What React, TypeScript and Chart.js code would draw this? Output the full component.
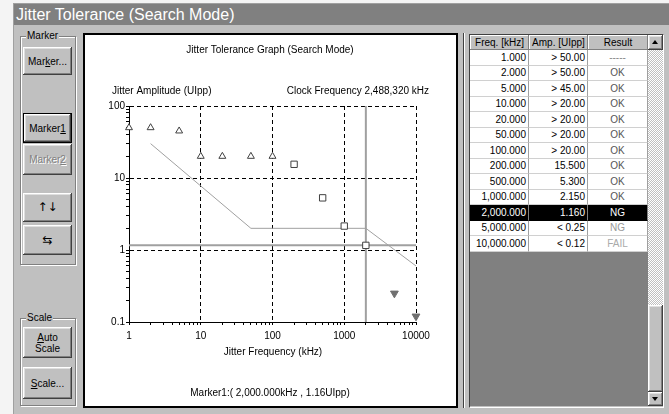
import React, { useEffect, useRef } from 'react';
import { Chart, registerables } from 'chart.js';
Chart.register(...registerables);

const FONT = '"Liberation Sans", Arial, Helvetica, sans-serif';

// ---- chart data ----
const passFreq = [1, 2, 5, 10, 20, 50, 100];
const passAmp = [50, 50, 45, 20, 20, 20, 20];
const measFreq = [200, 500, 1000, 2000];
const measAmp = [15.5, 5.3, 2.15, 1.16];
const failFreq = [5000, 10000];
const failAmp = [0.25, 0.12];
const maskFreq = [2, 50, 2000, 10000];
const maskAmp = [30, 2, 2, 0.6];
const markerFreq = 2000;
const markerAmp = 1.16;
const xMin = 1;
const xMax = 10000;
const yMin = 0.1;
const yMax = 100;
const xTickLabels = ['1', '10', '100', '1000', '10000'];
const yTickLabels = ['0.1', '1', '10', '100'];

// ---- texts ----
const windowTitle = 'Jitter Tolerance (Search Mode)';
const graphTitle = 'Jitter Tolerance Graph (Search Mode)';
const yAxisTitle = 'Jitter Amplitude (UIpp)';
const clockText = 'Clock Frequency 2,488,320 kHz';
const xAxisTitle = 'Jitter Frequency (kHz)';
const markerText = 'Marker1:( 2,000.000kHz , 1.16UIpp)';

// ---- table data ----
const tableHeaders = ['Freq. [kHz]', 'Amp. [UIpp]', 'Result'];
const freqLabels = ['1.000', '2.000', '5.000', '10.000', '20.000', '50.000', '100.000', '200.000', '500.000', '1,000.000', '2,000.000', '5,000.000', '10,000.000'];
const ampLabels = ['> 50.00', '> 50.00', '> 45.00', '> 20.00', '> 20.00', '> 20.00', '> 20.00', '15.500', '5.300', '2.150', '1.160', '< 0.25', '< 0.12'];
const resultLabels = ['-----', 'OK', 'OK', 'OK', 'OK', 'OK', 'OK', 'OK', 'OK', 'OK', 'NG', 'NG', 'FAIL'];
const selectedRow = 10;

const resultColor = (r: string) =>
  r === 'OK' ? '#555' : r === 'NG' ? '#999' : r === 'FAIL' ? '#aaa' : '#888';

const isIntMantissa = (v: number) => {
  const m = v / Math.pow(10, Math.floor(Math.log10(v) + 1e-9));
  return Math.abs(m - Math.round(m)) < 1e-6;
};
const decadeIndex = (v: number) => {
  const l = Math.log10(v);
  const r = Math.round(l);
  return Math.abs(l - r) < 1e-6 ? r : null;
};

const textPlugin = {
  id: 'graphTexts',
  afterDraw(chart: any) {
    const ctx = chart.ctx;
    ctx.save();
    ctx.fillStyle = '#000';
    ctx.font = `10px ${FONT}`;
    ctx.textBaseline = 'middle';
    ctx.textAlign = 'center';
    ctx.fillText(graphTitle, 185, 15);
    ctx.fillText(xAxisTitle, 188, 317);
    ctx.fillText(markerText, 185, 358);
    ctx.textAlign = 'left';
    ctx.fillText(yAxisTitle, 27, 56);
    ctx.textAlign = 'right';
    ctx.fillText(clockText, 344, 56);
    ctx.restore();
  },
};

function GraphCanvas() {
  const ref = useRef<HTMLCanvasElement | null>(null);
  useEffect(() => {
    if (!ref.current) return;
    const gridColor = (c: any) =>
      c.tick && decadeIndex(c.tick.value) !== null ? '#000' : 'rgba(0,0,0,0)';
    const chart = new Chart(ref.current, {
      type: 'scatter',
      data: {
        datasets: [
          {
            label: 'Pass',
            data: passFreq.map((x, i) => ({ x, y: passAmp[i] })),
            pointStyle: 'triangle',
            pointRadius: 4,
            backgroundColor: '#fff',
            borderColor: '#404040',
            borderWidth: 1,
            showLine: false,
            clip: false,
            order: 1,
          },
          {
            label: 'Measured',
            data: measFreq.map((x, i) => ({ x, y: measAmp[i] })),
            pointStyle: 'rect',
            pointRadius: 4.5,
            backgroundColor: '#fff',
            borderColor: '#404040',
            borderWidth: 1,
            showLine: false,
            clip: false,
            order: 1,
          },
          {
            label: 'Fail',
            data: failFreq.map((x, i) => ({ x, y: failAmp[i] })),
            pointStyle: 'triangle',
            rotation: 180,
            pointRadius: 4.5,
            backgroundColor: '#707070',
            borderColor: '#707070',
            borderWidth: 1,
            showLine: false,
            clip: false,
            order: 1,
          },
          {
            label: 'Mask',
            data: maskFreq.map((x, i) => ({ x, y: maskAmp[i] })),
            showLine: true,
            pointRadius: 0,
            borderColor: '#a0a0a0',
            borderWidth: 1,
            clip: false,
            order: 3,
          },
          {
            label: 'MarkerV',
            data: [{ x: markerFreq, y: yMin }, { x: markerFreq, y: yMax }],
            showLine: true,
            pointRadius: 0,
            borderColor: '#a0a0a0',
            borderWidth: 2,
            clip: false,
            order: 2,
          },
          {
            label: 'MarkerH',
            data: [{ x: xMin, y: markerAmp }, { x: xMax, y: markerAmp }],
            showLine: true,
            pointRadius: 0,
            borderColor: '#a0a0a0',
            borderWidth: 2,
            clip: false,
            order: 2,
          },
        ],
      },
      options: {
        animation: false,
        responsive: false,
        events: [],
        layout: { padding: { top: 71, right: 40, left: 0, bottom: 0 } },
        plugins: { legend: { display: false }, tooltip: { enabled: false } },
        scales: {
          x: {
            type: 'logarithmic',
            min: xMin,
            max: xMax,
            afterFit: (s: any) => { s.height = 84; },
            afterBuildTicks: (s: any) => { s.ticks = s.ticks.filter((t: any) => isIntMantissa(t.value)); },
            ticks: {
              autoSkip: false,
              maxRotation: 0,
              padding: 5,
              color: '#000',
              font: { family: FONT, size: 10 },
              callback: (v: any) => { const d = decadeIndex(Number(v)); return d === null ? '' : xTickLabels[d]; },
            },
            grid: { color: gridColor, lineWidth: 1, tickColor: '#000', tickLength: 3, tickWidth: 1 },
            border: { display: true, color: '#000', width: 1, dash: [4, 3] },
          },
          y: {
            type: 'logarithmic',
            position: 'left',
            min: yMin,
            max: yMax,
            afterFit: (s: any) => { s.width = 44; },
            afterBuildTicks: (s: any) => { s.ticks = s.ticks.filter((t: any) => isIntMantissa(t.value)); },
            ticks: {
              autoSkip: false,
              padding: 1,
              color: '#000',
              font: { family: FONT, size: 10 },
              callback: (v: any) => { const d = decadeIndex(Number(v)); return d === null ? '' : yTickLabels[d + 1]; },
            },
            grid: { color: gridColor, lineWidth: 1, tickColor: '#000', tickLength: 3, tickWidth: 1 },
            border: { display: true, color: '#000', width: 1, dash: [4, 3] },
          },
        },
      } as any,
      plugins: [textPlugin],
    });
    return () => chart.destroy();
  }, []);
  return (
    <canvas
      ref={ref}
      width={371}
      height={371}
      style={{ position: 'absolute', left: 0, top: 0, width: 371, height: 371 }}
    />
  );
}

const raised = 'inset -1px -1px #404040, inset 1px 1px #fff, inset -2px -2px #808080, inset 2px 2px #dfdfdf';

function Btn(props: { x: number; y: number; w: number; h: number; children: any; disabled?: boolean; def?: boolean }) {
  const { x, y, w, h, children, disabled, def } = props;
  return (
    <div
      style={{
        position: 'absolute', left: x, top: y, width: w, height: h, boxSizing: 'border-box',
        background: '#c0c0c0',
        border: def ? '1px solid #000' : 'none',
        boxShadow: raised,
        display: 'flex', alignItems: 'center', justifyContent: 'center', textAlign: 'center',
        fontSize: 10, lineHeight: '11px',
        color: disabled ? '#808080' : '#000',
        textShadow: disabled ? '1px 1px 0 #fff' : 'none',
      }}
    >
      <div>{children}</div>
    </div>
  );
}

function Group(props: { x: number; y: number; w: number; h: number; label: string }) {
  const { x, y, w, h, label } = props;
  return (
    <>
      <div
        style={{
          position: 'absolute', left: x, top: y, width: w, height: h, boxSizing: 'border-box',
          border: '1px solid #808080', boxShadow: '1px 1px 0 #fff, inset 1px 1px 0 #fff',
        }}
      />
      <div style={{ position: 'absolute', left: x + 6, top: y - 6, padding: '0 1px', background: '#c0c0c0', fontSize: 10, lineHeight: '12px' }}>
        {label}
      </div>
    </>
  );
}

const colX = [470, 529, 588];
const colW = [59, 59, 60];
const rowTop = 50;
const rowH = 15.5;

function Table() {
  return (
    <>
      <div style={{ position: 'absolute', left: 469, top: 34, width: 195, height: 374, boxSizing: 'border-box', borderLeft: '1px solid #404040', borderTop: '1px solid #404040', borderRight: '1px solid #fff', borderBottom: '1px solid #fff' }} />
      <div style={{ position: 'absolute', left: 470, top: 35, width: 178, height: 371, background: '#808080' }} />
      {tableHeaders.map((hd, i) => (
        <div key={hd} style={{ position: 'absolute', left: colX[i], top: 35, width: colW[i], height: 15, boxSizing: 'border-box', background: '#c0c0c0', boxShadow: 'inset -1px -1px #808080, inset 1px 1px #fff', textAlign: 'center', lineHeight: '15px', fontSize: 10 }}>
          {hd}
        </div>
      ))}
      {freqLabels.map((f, r) => {
        const top = rowTop + Math.round(r * rowH);
        const h = rowTop + Math.round((r + 1) * rowH) - top;
        const sel = r === selectedRow;
        const cells = [f, ampLabels[r], resultLabels[r]];
        return cells.map((c, i) => (
          <div key={r + '-' + i} style={{
            position: 'absolute', left: colX[i], top, width: colW[i], height: h, boxSizing: 'border-box',
            background: sel ? '#000' : '#fff',
            color: sel ? '#fff' : i === 2 ? resultColor(c) : '#000',
            borderRight: '1px solid ' + (sel ? '#808080' : '#a0a0a0'),
            borderBottom: '1px solid ' + (sel ? '#000' : '#d0d0d0'),
            textAlign: i === 2 ? 'center' : 'right',
            paddingRight: i === 2 ? 0 : 2,
            lineHeight: h - 1 + 'px', fontSize: 10, whiteSpace: 'nowrap',
          }}>
            {c}
          </div>
        ));
      })}
      {/* scrollbar */}
      <div style={{ position: 'absolute', left: 648, top: 35, width: 15, height: 371, background: 'repeating-conic-gradient(#fff 0 25%, #c0c0c0 0 50%) 0 0/2px 2px' }} />
      <div style={{ position: 'absolute', left: 648, top: 35, width: 15, height: 15, background: '#c0c0c0', boxShadow: raised }}>
        <div style={{ position: 'absolute', left: 4, top: 5, width: 0, height: 0, borderLeft: '3.5px solid transparent', borderRight: '3.5px solid transparent', borderBottom: '4px solid #000' }} />
      </div>
      <div style={{ position: 'absolute', left: 648, top: 305, width: 15, height: 87, background: '#c0c0c0', boxShadow: raised }} />
      <div style={{ position: 'absolute', left: 648, top: 392, width: 15, height: 14, background: '#c0c0c0', boxShadow: raised }}>
        <div style={{ position: 'absolute', left: 4, top: 5, width: 0, height: 0, borderLeft: '3.5px solid transparent', borderRight: '3.5px solid transparent', borderTop: '4px solid #000' }} />
      </div>
    </>
  );
}

const arrowStyle = { fontSize: 12, fontFamily: '"DejaVu Sans", sans-serif', color: '#000' };

export default function App() {
  return (
    <div style={{ position: 'relative', width: 669, height: 414, background: '#f4f4f4', overflow: 'hidden', fontFamily: FONT, fontSize: 10, color: '#000' }}>
      <style>{'body{margin:0}'}</style>
      <div style={{ position: 'absolute', left: 13, top: 3, width: 656, height: 411, background: '#c0c0c0', borderLeft: '1px solid #a0a0a0', borderTop: '1px solid #a0a0a0', boxSizing: 'border-box' }} />
      <div style={{ position: 'absolute', left: 14, top: 4, width: 655, height: 21, background: '#808080', color: '#fff', fontSize: 16, lineHeight: '21px', paddingLeft: 2, boxSizing: 'border-box', whiteSpace: 'nowrap' }}>
        {windowTitle}
      </div>

      <Group x={20} y={36} w={56} h={229} label="Marker" />
      <Btn x={23} y={47} w={49} h={28}>Mar<u>k</u>er...</Btn>
      <Btn x={23} y={113} w={49} h={30} def>Marker<u>1</u></Btn>
      <Btn x={23} y={144} w={49} h={31} disabled>Marker<u>2</u></Btn>
      <Btn x={23} y={193} w={49} h={29}><span style={arrowStyle}>{'\u2191\uFE0E\u2193\uFE0E'}</span></Btn>
      <Btn x={23} y={225} w={49} h={30}><span style={arrowStyle}>{'\u21C6\uFE0E'}</span></Btn>

      <Group x={20} y={318} w={56} h={88} label="Scale" />
      <Btn x={23} y={327} w={49} h={31}><u>A</u>uto<br />Scale</Btn>
      <Btn x={23} y={367} w={49} h={32}><u>S</u>cale...</Btn>

      <div style={{ position: 'absolute', left: 83, top: 33, width: 375, height: 375, boxSizing: 'border-box', border: '2px solid #000', background: '#fff' }}>
        <div style={{ position: 'relative', width: 371, height: 371 }}>
          <GraphCanvas />
        </div>
      </div>

      <div style={{ position: 'absolute', left: 463, top: 33, width: 1, height: 375, background: '#404040' }} />
      <div style={{ position: 'absolute', left: 464, top: 33, width: 1, height: 375, background: '#fff' }} />

      <Table />
    </div>
  );
}
